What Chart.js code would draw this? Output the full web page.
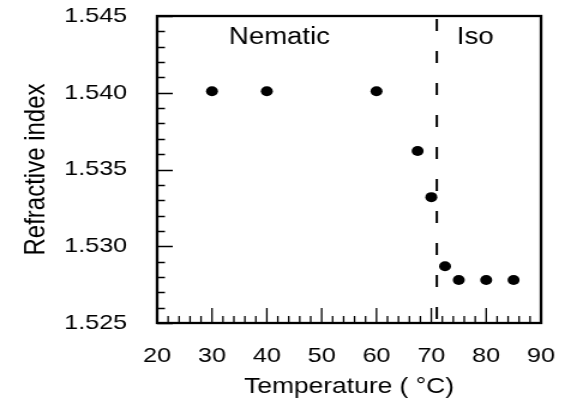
<!DOCTYPE html>
<html><head><meta charset="utf-8">
<script src="https://cdn.jsdelivr.net/npm/chart.js@4/dist/chart.umd.min.js"></script>
<style>html,body{margin:0;padding:0;background:#fff}canvas{display:block}</style>
</head><body>
<!-- the original figure is stretched horizontally by ~1.2; the canvas is drawn narrower and shown at full width -->
<canvas id="c" width="471" height="409" style="width:565px;height:409px"></canvas>
<script>
// ---- data ----
const temperatures = [30, 40, 60, 67.5, 70, 72.5, 75, 80, 85];
const refractiveIndex = [1.5401, 1.5401, 1.5401, 1.5362, 1.5332, 1.5287, 1.5278, 1.5278, 1.5278];
const xTicks = [20, 30, 40, 50, 60, 70, 80, 90];
const yTicks = [1.525, 1.530, 1.535, 1.540, 1.545];
const xMinorStep = 2;
const yMinorStep = 0.001;
const transitionTemp = 71;
const phaseNames = ['Nematic', 'Iso'];
const phaseTemps = [42.3, 78.0];
const phaseIndex = [1.5436, 1.5436];

const FONT = '"Liberation Sans", Arial, sans-serif';

const decor = {
  id: 'decor',
  beforeDatasetsDraw(chart) {
    const {ctx, chartArea: a, scales: {x, y}} = chart;
    ctx.save();
    ctx.strokeStyle = '#000';
    ctx.lineWidth = 1.3;
    ctx.beginPath();
    for (let v = x.min; v <= x.max + 1e-9; v += xMinorStep) {
      const px = x.getPixelForValue(v);
      const major = xTicks.some(t => Math.abs(t - v) < 1e-6);
      const len = major ? 15 : 7;
      ctx.moveTo(px, a.bottom); ctx.lineTo(px, a.bottom - len);
    }
    const n = Math.round((y.max - y.min) / yMinorStep);
    for (let i = 0; i <= n; i++) {
      const v = y.min + i * yMinorStep;
      const py = Math.round(y.getPixelForValue(v)) + 0.5;
      const major = yTicks.some(t => Math.abs(t - v) < 1e-7);
      const len = major ? 13 : 6.5;
      ctx.moveTo(a.left, py); ctx.lineTo(a.left + len, py);
    }
    ctx.stroke();
    // frame
    ctx.lineWidth = 2.3;
    ctx.strokeRect(a.left, a.top, a.right - a.left, a.bottom - a.top);
    // transition line
    const tx = x.getPixelForValue(transitionTemp);
    ctx.setLineDash([12, 20]);
    ctx.lineWidth = 2;
    ctx.beginPath();
    ctx.moveTo(tx, a.top + 3); ctx.lineTo(tx, a.bottom);
    ctx.stroke();
    ctx.setLineDash([]);
    // phase labels
    ctx.font = '23px ' + FONT;
    ctx.fillStyle = '#000';
    ctx.textAlign = 'center';
    ctx.textBaseline = 'middle';
    phaseNames.forEach((s, i) => {
      ctx.fillText(s, x.getPixelForValue(phaseTemps[i]), y.getPixelForValue(phaseIndex[i]));
    });
    ctx.restore();
  }
};

const zeroPad = s => { s.paddingLeft = 0; s.paddingRight = 0; s.paddingTop = 0; s.paddingBottom = 0; };

new Chart(document.getElementById('c'), {
  type: 'scatter',
  data: {
    datasets: [{
      data: temperatures.map((t, i) => ({x: t, y: refractiveIndex[i]})),
      backgroundColor: '#000',
      borderWidth: 0,
      pointRadius: 5
    }]
  },
  options: {
    responsive: false,
    devicePixelRatio: 1,
    animation: false,
    layout: {padding: {left: 0, top: 16, right: 20, bottom: 0}},
    plugins: {legend: {display: false}, tooltip: {enabled: false}},
    scales: {
      x: {
        type: 'linear', min: 20, max: 90,
        afterBuildTicks: s => { s.ticks = xTicks.map(v => ({value: v})); },
        afterFit: s => { s.height = 86; zeroPad(s); },
        grid: {display: false, drawTicks: false},
        border: {display: false},
        ticks: {color: '#000', font: {family: FONT, size: 21}, padding: 21, maxRotation: 0, autoSkip: false},
        title: {display: true, text: 'Temperature ( °C)', color: '#000', font: {family: FONT, size: 22}, padding: {top: 0, bottom: 9}}
      },
      y: {
        type: 'linear', min: 1.525, max: 1.545,
        afterBuildTicks: s => { s.ticks = yTicks.map(v => ({value: v})); },
        afterFit: s => { s.width = 131; zeroPad(s); },
        grid: {display: false, drawTicks: false},
        border: {display: false},
        ticks: {color: '#000', font: {family: FONT, size: 21}, padding: 25, autoSkip: false,
          callback: v => Number(v).toFixed(3)},
        title: {display: true, text: 'Refractive index', color: '#000', font: {family: FONT, size: 24}, padding: {top: 16, bottom: 0}}
      }
    }
  },
  plugins: [decor]
});
</script>
</body></html>
